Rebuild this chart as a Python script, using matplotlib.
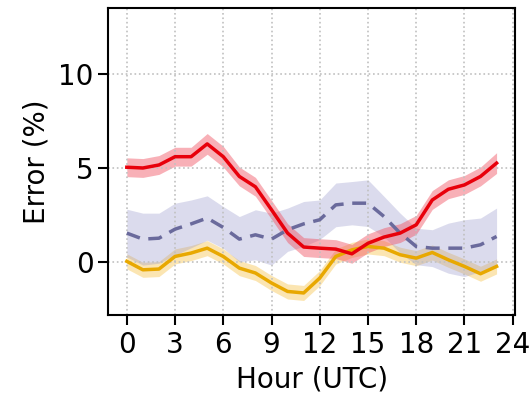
import numpy as np
import matplotlib
matplotlib.use('Agg')
import matplotlib.pyplot as plt

hours = np.arange(24)

# red series (mean and half-width of band)
red_mean = [5.04, 5.0, 5.16, 5.6, 5.6, 6.28, 5.6, 4.55, 4.0, 2.78, 1.54, 0.8,
            0.74, 0.69, 0.44, 1.0, 1.33, 1.54, 1.98, 3.3, 3.87, 4.1, 4.55, 5.26]
red_err = [0.5, 0.5, 0.5, 0.5, 0.5, 0.55, 0.55, 0.5, 0.5, 0.5, 0.5, 0.5,
           0.5, 0.5, 0.5, 0.5, 0.5, 0.5, 0.5, 0.5, 0.5, 0.5, 0.5, 0.55]

# blue dashed series
blue_mean = [1.54, 1.22, 1.27, 1.75, 2.03, 2.34, 1.84, 1.22, 1.45, 1.22, 1.72, 2.03,
             2.25, 3.04, 3.13, 3.13, 2.42, 1.54, 0.83, 0.74, 0.74, 0.74, 0.92, 1.36]
blue_err = [1.27, 1.38, 1.33, 1.38, 1.27, 1.18, 1.11, 1.2, 1.33, 1.38, 1.15, 1.19,
            1.05, 1.16, 1.15, 1.24, 1.07, 1.06, 0.97, 0.98, 1.33, 1.51, 1.42, 1.51]

# orange series
orange_mean = [0.04, -0.41, -0.37, 0.3, 0.48, 0.74, 0.3, -0.32, -0.58, -1.11, -1.56, -1.64,
               -0.85, 0.3, 0.65, 0.83, 0.74, 0.39, 0.21, 0.51, 0.12, -0.23, -0.62, -0.23]
orange_err = [0.4] * 24

fig = plt.figure(figsize=(5.31, 4.01), dpi=100)
ax = fig.add_axes([0.204, 0.215, 0.766, 0.765])

def band(mean, err, line_color, fill_color, ls='-', alpha=0.35):
    mean = np.array(mean)
    err = np.array(err)
    ax.fill_between(hours, mean - err, mean + err, color=fill_color, alpha=alpha, lw=0)
    ax.plot(hours, mean, color=line_color, ls=ls, lw=2.5)

band(orange_mean, orange_err, '#e8a800', '#f7c040', alpha=0.4)
band(blue_mean, blue_err, '#6a6a9c', '#9a9acc', ls=(0, (4, 2.5)), alpha=0.35)
band(red_mean, red_err, '#e8000b', '#f05060', alpha=0.45)

ax.set_xlim(-1.15, 24.15)
ax.set_ylim(-2.8, 13.5)
ax.set_xticks(range(0, 25, 3))
ax.set_yticks([0, 5, 10])
ax.grid(True, ls=':', color='#c0c0c0', lw=1.2)
ax.set_xlabel('Hour (UTC)', fontsize=20, labelpad=4)
ax.set_ylabel('Error (%)', fontsize=20, labelpad=6)
ax.tick_params(labelsize=20, length=7, width=1.5)
ax.tick_params(axis='x', pad=5)
for s in ax.spines.values():
    s.set_linewidth(1.5)

fig.savefig('out.png', dpi=100)
